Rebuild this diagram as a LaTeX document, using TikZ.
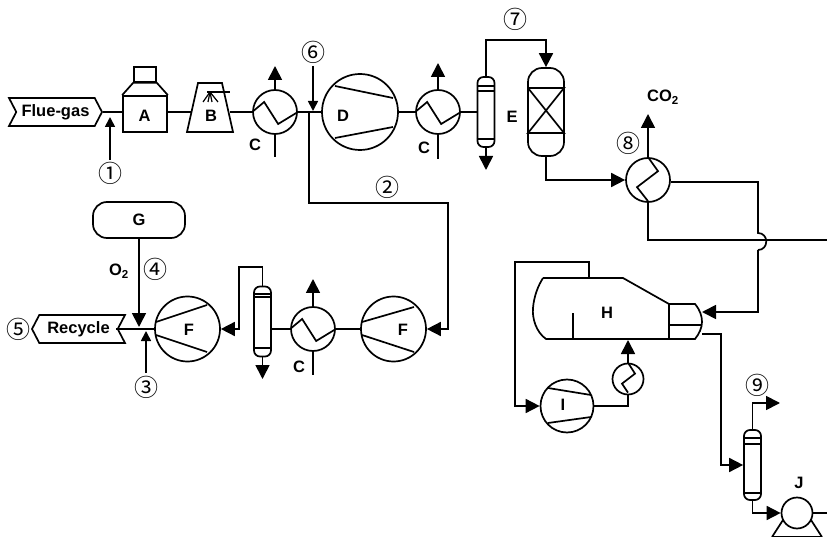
\documentclass[tikz,border=0pt]{standalone}
\usepackage{fontspec}
\setmainfont{Liberation Sans}
\newfontfamily\cjkfont{Noto Sans CJK JP}
\usepackage{tikz}
\usetikzlibrary{arrows.meta,shapes.symbols}

\begin{document}
\begin{tikzpicture}[x=1pt,y=-1pt,line width=1.7pt,
  lab/.style={font=\fontsize{16.5}{18}\selectfont\bfseries,inner sep=0pt},
  numlab/.style={font=\fontsize{24}{25}\cjkfont,inner sep=0pt},
  flow/.style={-{Triangle[length=14pt,width=14pt]}},
  flowsmall/.style={-{Triangle[length=10pt,width=10pt]}},
  unit/.style={draw,circle,inner sep=0pt},
  hx/.style={unit,minimum size=44pt},
  hxsmall/.style={unit,minimum size=31pt},
  comp/.style={unit,minimum size=65pt},
  column/.style={draw,rectangle,rounded corners=6pt,minimum width=17pt,minimum height=70pt,inner sep=0pt},
  sign/.style={draw,signal,signal pointer angle=125,minimum width=93pt,minimum height=28pt,inner sep=0pt,lab}]
\useasboundingbox (0,0) rectangle (827,537);

% Top train
\node[sign,signal to=east,signal from=west] (flue) at (55.5,112) {Flue-gas};
\node[draw,rectangle,minimum width=44pt,minimum height=36pt,inner sep=0pt] (boxa) at (145,114) {};
\node[lab] at (144.5,116) (laba) {A};
\node[draw,rectangle,minimum width=22pt,minimum height=15pt,inner sep=0pt] (hooda) at (145,74.5) {};
\draw (boxa.north west) -- (hooda.south west) -- (hooda.south east) -- (boxa.north east);
\draw[line join=miter] (187,132) coordinate (bsw) -- (198,83) -- (222,83) -- (233,132) coordinate (bse) -- cycle;
\coordinate (bin) at (191,112);
\coordinate (bout) at (230,112);
\node[lab] (labb) at (211,116) {B};
\draw (207,92) -- (230,92);
\foreach \xend in {203,208,212,218} \draw[line width=1.2pt] (210,92) -- (\xend,102);

\node[hx] (hxa) at (275,112) {};
\node[lab] (labca) at (255,145) {C};
\node[comp,minimum size=76pt] (compd) at (360,112) {};
\node[lab] (labd) at (343,116) {D};
\draw (335,86) -- (393,98);
\draw (335,138) -- (393,127);
\node[hx] (hxb) at (438,112) {};
\node[lab] (labcb) at (424,148) {C};
\node[column] (cola) at (486,112) {};
\draw (cola.west |- 0,86) -- (cola.east |- 0,86);
\draw (cola.west |- 0,91) -- (cola.east |- 0,91);
\draw (cola.west |- 0,139) -- (cola.east |- 0,139);
\node[lab] (labe) at (512,117) {E};

% Reactor
\node[draw,rectangle,rounded corners=14pt,minimum width=36pt,minimum height=88pt,inner sep=0pt] (reac) at (546,112) {};
\coordinate (rtl) at (528,88);
\coordinate (rtr) at (564,88);
\coordinate (rbl) at (528,133);
\coordinate (rbr) at (564,133);
\draw (rtl) -- (rtr) -- (rbl) -- (rbr) -- (rtl);

% Line between the units
\coordinate (inlet) at (110,112);
\coordinate (splitd) at (309,112);
\draw (flue.east) -- (boxa.west |- flue.east);
\draw (boxa.east |- bin) -- (bin);
\draw (bout) -- (hxa.west);
\draw (hxa.east) -- (compd.west);
\draw (compd.east) -- (hxb.west);
\draw (hxb.east) -- (cola.west);

% Exchanger coils and their water
\draw (hxa.west) -- ++(12,-10) -- ++(14,22) -- (hxa.east);
\draw (hxb.west) -- ++(12,-10) -- ++(14,22) -- (hxb.east);
\coordinate (hxaup) at (275,66);
\coordinate (hxadn) at (275,157);
\coordinate (hxbup) at (438,63);
\coordinate (hxbdn) at (438,159);
\draw[flow] (hxa.north) -- (hxaup);
\draw (hxa.south) -- (hxadn);
\draw[flow] (hxb.north) -- (hxbup);
\draw (hxb.south) -- (hxbdn);
\coordinate (colaup) at (546,40);
\coordinate (coladn) at (486,170);
\draw[flow] (cola.south) -- (coladn);
\draw[flow] (cola.north) |- (colaup) -- (reac.north);

% Numbers on the top train
\node[numlab] (numa) at (110,173) {①};
\node[numlab] (numf) at (313,52) {⑥};
\node[numlab] (numg) at (515,19) {⑦};
\node[numlab] (numb) at (387,187) {②};
\node[numlab] (numh) at (628,143) {⑧};
\coordinate (numatop) at (110,160);
\coordinate (numftip) at (313,111);
\coordinate (numfbot) at (313,66);
\draw[flowsmall] (numatop) -- (110,117) coordinate (inlettip);
\draw[flowsmall] (numfbot) -- (numftip);

% Exchanger with CO2
\node[hx] (hxc) at (648,180) {};
\draw (hxc.north) -- ++(10,14) -- ++(-21,16) -- ++(11,14);
\coordinate (co2up) at (648,114);
\draw[flow] (hxc.north) -- (co2up);
\node[lab] (labco) at (663,97) {CO\textsubscript{2}};
\coordinate (reacturn) at (546,180);
\draw[flow] (reac.south) -- (reacturn) -- (hxc.west);

% Lines on the right
\coordinate (hotcorner) at (758,182);
\coordinate (jumptop) at (758,233);
\coordinate (jumpbot) at (758,250);
\coordinate (burnin) at (702,312);
\coordinate (coldcorner) at (648,240);
\coordinate (coldend) at (827,240);
\draw (hxc.east |- hotcorner) -- (hotcorner) -- (jumptop) .. controls (769,233) and (769,250) .. (jumpbot);
\draw[flow] (jumpbot) |- (burnin);
\draw (hxc.south) -- (coldcorner) -- (coldend);

% Furnace
\draw (543,278) coordinate (htl) -- (589,278) coordinate (htop) -- (623,278) -- (669,304) coordinate (hbur)
  -- (669,339) -- (546,339) .. controls (536,332) and (532,318) .. (533,308) .. controls (534,296) and (538,286) .. (htl);
\draw (hbur) -- (695,304) .. controls (700,310) and (702,316) .. (702,322) .. controls (702,328) and (699,334) .. (695,339) -- (669,339);
\draw (669,325) -- (702,325);
\draw (573,313) -- (573,339);
\node[lab] (labh) at (607,313) {H};
\coordinate (hbot) at (628,340);

% Recirculation loop
\node[comp,minimum size=53pt] (compi) at (567,406) {};
\node[lab] (labi) at (563,405) {I};
\draw (548,388) -- (591,395);
\draw (548,423) -- (591,417);
\coordinate (loopa) at (515,262);
\coordinate (loopb) at (515,406);
\draw[flow] (htop) |- (loopa) -- (loopb) -- (compi.west);
\node[hxsmall] (hxd) at (628,379) {};
\draw (hxd.north) -- ++(7,11) -- ++(-13,10) -- ++(6,9);
\coordinate (hxdturn) at (628,406);
\draw (compi.east) -- (hxdturn) -- (hxd.south);
\draw[flow] (hxd.north) -- (hbot);

% Bottom right column and pump
\coordinate (burnout) at (702,334);
\coordinate (burncorner) at (721,334);
\node[column] (colb) at (752.5,465) {};
\draw (colb.west |- 0,438) -- (colb.east |- 0,438);
\draw (colb.west |- 0,444) -- (colb.east |- 0,444);
\draw (colb.west |- 0,493) -- (colb.east |- 0,493);
\draw[flow] (burnout) -- (burncorner) |- (colb.west);
\coordinate (colbup) at (780,403);
\draw[flow] (colb.north) |- (colbup);
\node[hxsmall] (pump) at (797,513) {};
\draw[flow] (colb.south) |- (pump.west);
\coordinate (pumpout) at (827,513);
\draw (pump.east) -- (pumpout);
\draw (783,520) -- (772,537);
\draw (811,520) -- (822,537);
\draw (772,536.5) -- (822,536.5);
\node[lab] (labj) at (799,483) {J};
\node[numlab] (numi) at (757,385) {⑨};

% Lower train
\node[draw,rectangle,rounded corners=14pt,minimum width=92pt,minimum height=36pt,inner sep=0pt] (tank) at (139,220) {};
\node[lab] (labg) at (139,220) {G};
\node[lab] (labo) at (119,271) {O\textsubscript{2}};
\node[numlab] (numd) at (155,269) {④};
\node[numlab] (nume) at (18,329) {⑤};
\node[numlab] (numc) at (146,387) {③};
\node[sign,signal to=west,signal from=east] (recy) at (78.5,329) {Recycle};
\node[comp] (compfa) at (187.5,329) {};
\node[lab] (labfa) at (189,330) {F};
\draw (156,322) -- (207,305);
\draw (156,335) -- (207,352);
\node[column] (colc) at (262.5,321.5) {};
\draw (colc.west |- 0,294) -- (colc.east |- 0,294);
\draw (colc.west |- 0,297) -- (colc.east |- 0,297);
\draw (colc.west |- 0,348) -- (colc.east |- 0,348);
\node[hx] (hxe) at (313,329) {};
\draw (hxe.west) -- ++(12,-10) -- ++(14,22) -- (hxe.east);
\node[lab] (labcc) at (299,367) {C};
\node[comp] (compfb) at (393.5,329) {};
\node[lab] (labfb) at (403,330) {F};
\draw (362,322) -- (414,307);
\draw (362,335) -- (414,352);

\coordinate (mixin) at (139,327);
\coordinate (mixlow) at (146,331);
\coordinate (numctop) at (146,373);
\draw[flow] (tank.south) -- (mixin);
\draw[flowsmall] (numctop) -- (mixlow);
\draw (recy.west -| 116,330) -- (compfa.west);
\coordinate (colcturn) at (239,267);
\draw[flow] (colc.north) |- (colcturn) |- (compfa.east);
\coordinate (colcdn) at (262.5,379);
\draw[flow] (colc.south) -- (colcdn);
\draw (colc.east |- hxe.west) -- (hxe.west);
\draw (hxe.east) -- (compfb.west);
\coordinate (hxeup) at (313,279);
\coordinate (hxedn) at (313,375);
\draw[flow] (hxe.north) -- (hxeup);
\draw (hxe.south) -- (hxedn);
\coordinate (cornerb) at (448,203);
\draw[flow] (splitd) |- (cornerb) |- (compfb.east);
\end{tikzpicture}
\end{document}
